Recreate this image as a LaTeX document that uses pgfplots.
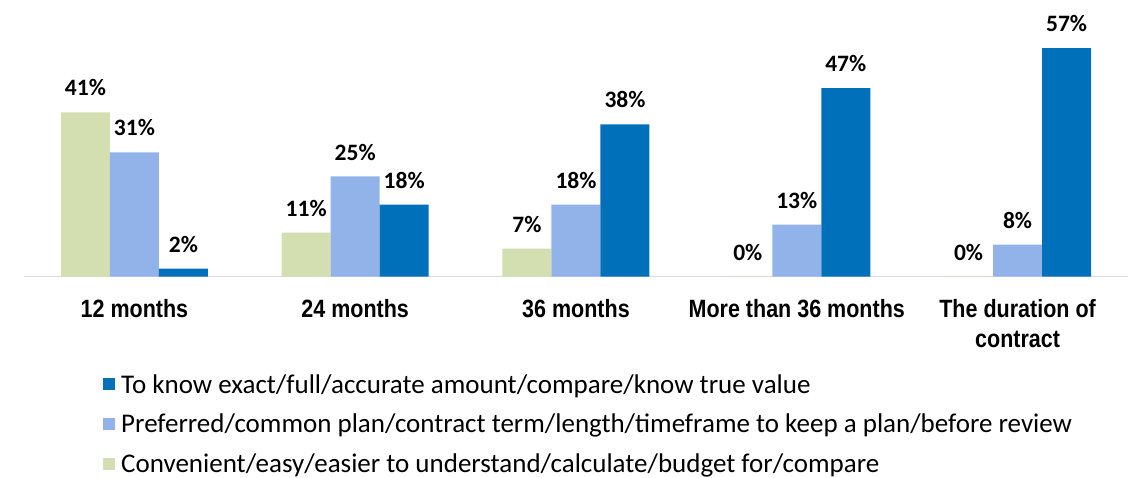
\documentclass[border=0pt]{standalone}
\usepackage{fontspec}
\setmainfont{Carlito}
\newfontfamily\narrowfont{Liberation Sans}[FakeStretch=0.86]
\usepackage{pgfplots}
\pgfplotsset{compat=1.18}
\definecolor{cgreen}{HTML}{D3DFB0}
\definecolor{clblue}{HTML}{92B3EA}
\definecolor{cdblue}{HTML}{0070BA}
\definecolor{axgray}{HTML}{D9D9D9}
\begin{document}
\begin{tikzpicture}
\begin{axis}[
  scale only axis, width=1104pt, height=276.7pt,
  xmin=-0.5, xmax=4.5, ymin=0, ymax=69,
  ybar=0pt, bar width=49pt,
  axis y line=none, axis x line*=bottom,
  x axis line style={-, draw=axgray, line width=1.5pt},
  xtick={0,...,4},
  xticklabels={12 months, 24 months, 36 months, More than 36 months, {The duration of\\contract}},
  xtick style={draw=none},
  xticklabel style={align=center, font=\narrowfont\bfseries\fontsize{25}{30}\selectfont, text=black, yshift=-15pt},
  ytick=\empty,
  clip=false,
  /pgf/number format/assume math mode=true,
  nodes near coords={\pgfmathprintnumber{\pgfplotspointmeta}\%},
  every node near coord/.append style={font=\bfseries\fontsize{23.5}{28}\selectfont, inner sep=0pt, yshift=16pt, text=black},
  legend style={at={(0.0716,-0.345)}, anchor=north west, draw=none, fill=none, font=\fontsize{27}{32}\selectfont, row sep=15.5pt, inner sep=0pt, nodes={inner xsep=6pt}},
  legend cell align=left,
  reverse legend,
  legend image code/.code={\fill[#1] (0pt,-6pt) rectangle (12pt,6pt);},
]
\addplot[fill=cgreen, draw=none] coordinates {(0,41) (1,11) (2,7) (3,0) (4,0)};
\addplot[fill=clblue, draw=none] coordinates {(0,31) (1,25) (2,18) (3,13) (4,8)};
\addplot[fill=cdblue, draw=none] coordinates {(0,2) (1,18) (2,38) (3,47) (4,57)};
\legend{Convenient/easy/easier to understand/calculate/budget for/compare,
Preferred/common plan/contract term/length/timeframe to keep a plan/before review,
To know exact/full/accurate amount/compare/know true value}
\end{axis}
\pgfresetboundingbox
\path (-24pt,-201.3pt) rectangle (1104pt,276.7pt);
\end{tikzpicture}
\end{document}
